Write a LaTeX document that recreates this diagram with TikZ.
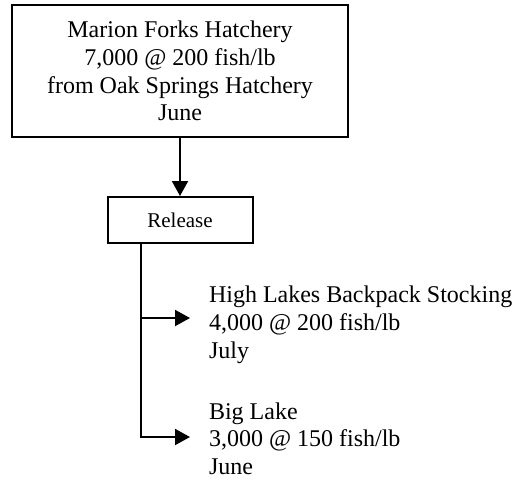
\documentclass[tikz,border=0pt]{standalone}
\usepackage{fontspec}
\setmainfont{Liberation Serif}
\usetikzlibrary{arrows.meta}

\begin{document}
\begin{tikzpicture}[x=0.5pt, y=-0.5pt, line width=1pt,
  box/.style={draw, rectangle, inner sep=0pt, align=center},
  note/.style={anchor=north west, inner sep=0pt, align=left, font=\fontsize{12}{13.8}\selectfont},
  arr/.style={-{Triangle[length=7.5pt, width=8pt]}}]
% pixel grid of the scan, y runs down
\useasboundingbox (0,0) rectangle (518,483);

% Boxes
\node[box, minimum width=168pt, minimum height=66pt, font=\fontsize{12}{13.8}\selectfont] (hatchery) at (180,71) {Marion Forks Hatchery\\7,000 @ 200 fish/lb\\from Oak Springs Hatchery\\June};
\node[box, minimum width=72.5pt, minimum height=23pt, font=\fontsize{10.5}{12}\selectfont] (release) at (180,220) {Release};

% Destinations (plain text, no frame)
\node[note] (backpack) at (208,285.3) {High Lakes Backpack Stocking\\4,000 @ 200 fish/lb\\July};
\node[note] (biglake) at (208,401.6) {Big Lake\\3,000 @ 150 fish/lb\\June};

% Branch points on the trunk
\coordinate (fork1) at (141,318);
\coordinate (fork2) at (141,437);

% Connectors
\draw[arr] (hatchery) -- (release);
\draw[arr, shorten >=9pt] (release.south -| fork1) |- (fork2 -| biglake.west);
\draw[arr, shorten >=9pt] (fork1) -- (fork1 -| backpack.west);
\end{tikzpicture}
\end{document}
